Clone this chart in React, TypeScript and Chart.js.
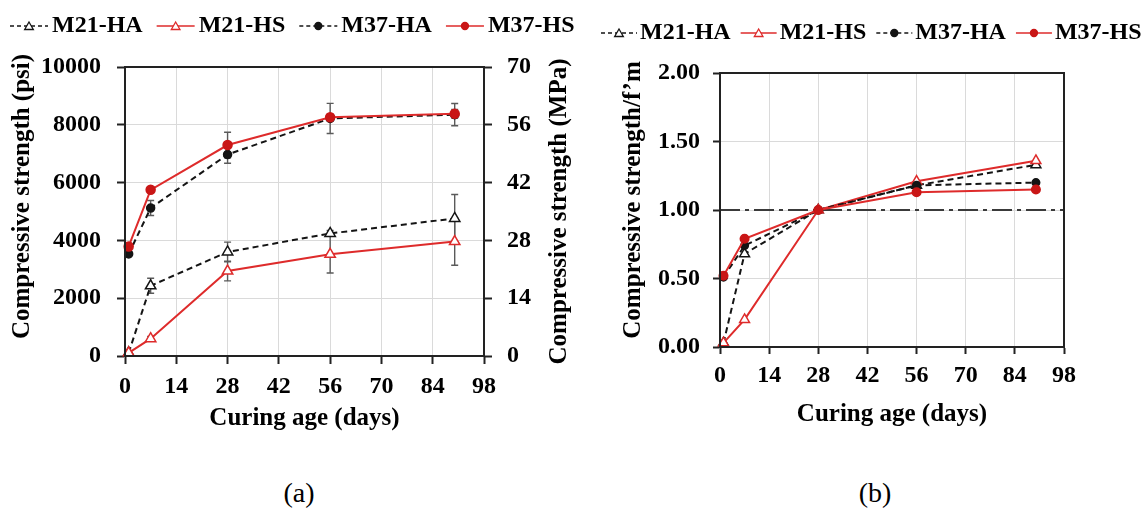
import React, { useEffect, useRef } from 'react';
import { Chart, registerables } from 'chart.js';

Chart.register(...registerables);

// ---- data ----
const curingDays = [1, 7, 28, 56, 90];
const seriesNames = ['M21-HA', 'M21-HS', 'M37-HA', 'M37-HS'];

// Compressive strength (psi)
const strengthM21HA = [110, 2430, 3600, 4240, 4760];
const strengthM21HS = [110, 600, 2940, 3520, 3960];
const strengthM37HA = [3530, 5120, 6970, 8220, 8350];
const strengthM37HS = [3790, 5750, 7300, 8260, 8380];

// Standard deviation of compressive strength (psi)
const errorM21HA = [0, 260, 340, 100, 830];
const errorM21HS = [0, 80, 340, 650, 820];
const errorM37HA = [0, 260, 300, 520, 385];
const errorM37HS = [0, 100, 440, 100, 150];

// Strength normalised by the 28-day strength
const ratioM21HA = [0.03, 0.68, 1.0, 1.18, 1.33];
const ratioM21HS = [0.03, 0.2, 1.0, 1.21, 1.36];
const ratioM37HA = [0.51, 0.74, 1.0, 1.18, 1.2];
const ratioM37HS = [0.52, 0.79, 1.0, 1.13, 1.15];
const referenceRatio = 1.0;

// Axis ranges
const dayAxis = { min: 0, max: 98, step: 14 };
const psiAxis = { min: 0, max: 10000, step: 2000 };
const mpaAxis = { min: 0, max: 70, step: 14 };
const ratioAxis = { min: 0, max: 2, step: 0.5 };

// ---- styling ----
const FONT = '"Liberation Serif", "Times New Roman", serif';
const RED = '#de2b2b';
const RED_DARK = '#c91616';
const INK = '#141414';
const GRID = '#dadada';

const tickFont = { family: FONT, size: 24, weight: 'bold' as const };
const titleFont = { family: FONT, size: 25, weight: 'bold' as const };

const seriesStyles = [
  { color: INK, dash: [6, 4], point: 'triangle', fill: '#ffffff', radius: 6 },
  { color: RED, dash: [], point: 'triangle', fill: '#ffffff', radius: 6 },
  { color: INK, dash: [6, 4], point: 'circle', fill: INK, radius: 4 },
  { color: RED, dash: [], point: 'circle', fill: RED_DARK, radius: 4.5 },
];

function buildDatasets(series: number[][], sizeFactor: number) {
  return series.map((vals, i) => {
    const s = seriesStyles[i];
    return {
      label: seriesNames[i],
      data: curingDays.map((d, k) => ({ x: d, y: vals[k] })),
      borderColor: s.color,
      borderWidth: 2,
      borderDash: s.dash,
      pointStyle: s.point,
      pointRadius: s.radius * sizeFactor,
      pointHoverRadius: s.radius * sizeFactor,
      pointBackgroundColor: s.fill,
      pointBorderColor: s.point === 'circle' ? s.fill : s.color,
      pointBorderWidth: 1.5,
      tension: 0,
      clip: false as const,
      order: 3 - i,
      yAxisID: 'y',
    };
  });
}

function drawMarker(ctx: CanvasRenderingContext2D, style: string, x: number, y: number, r: number, fill: string, stroke: string) {
  ctx.beginPath();
  if (style === 'triangle') {
    ctx.moveTo(x, y - r);
    ctx.lineTo(x + r * Math.sin(Math.PI / 3), y + r / 2);
    ctx.lineTo(x - r * Math.sin(Math.PI / 3), y + r / 2);
    ctx.closePath();
  } else {
    ctx.arc(x, y, r, 0, Math.PI * 2);
  }
  ctx.fillStyle = fill;
  ctx.fill();
  ctx.lineWidth = 1.3;
  ctx.strokeStyle = stroke;
  ctx.stroke();
}

// Legend row: line sample with marker, then the series name
function seriesKey(x0: number, y: number, sample: number, gap: number, itemGap: number) {
  return {
    id: 'seriesKey',
    afterDraw(chart: any) {
      const ctx: CanvasRenderingContext2D = chart.ctx;
      ctx.save();
      ctx.font = `bold 24px ${FONT}`;
      ctx.textBaseline = 'middle';
      ctx.textAlign = 'left';
      let x = x0;
      chart.data.datasets.forEach((ds: any) => {
        ctx.beginPath();
        ctx.setLineDash(ds.borderDash.length ? [4, 3] : []);
        ctx.strokeStyle = ds.borderColor;
        ctx.lineWidth = 1.5;
        ctx.moveTo(x, y);
        ctx.lineTo(x + sample, y);
        ctx.stroke();
        ctx.setLineDash([]);
        const isTri = ds.pointStyle === 'triangle';
        drawMarker(ctx, ds.pointStyle, x + sample / 2, y + (isTri ? 1 : 0), isTri ? 5 : 3.5, ds.pointBackgroundColor, ds.pointBorderColor);
        const tx = x + sample + gap;
        ctx.fillStyle = '#000';
        ctx.fillText(ds.label, tx, y);
        x = tx + ctx.measureText(ds.label).width + itemGap;
      });
      ctx.restore();
    },
  };
}

// Rotated axis titles placed beside the plot area
function sideTitles(items: { text: string; side: 'left' | 'right'; offset: number; shift: number }[]) {
  return {
    id: 'sideTitles',
    afterDraw(chart: any) {
      const { ctx, chartArea } = chart;
      const cy = (chartArea.top + chartArea.bottom) / 2;
      items.forEach((it) => {
        const x = it.side === 'left' ? chartArea.left - it.offset : chartArea.right + it.offset;
        ctx.save();
        ctx.translate(x, cy + it.shift);
        ctx.rotate(-Math.PI / 2);
        ctx.font = `bold 25px ${FONT}`;
        ctx.fillStyle = '#000';
        ctx.textAlign = 'center';
        ctx.textBaseline = 'middle';
        ctx.fillText(it.text, 0, 0);
        ctx.restore();
      });
    },
  };
}

const plotFrame = {
  id: 'plotFrame',
  afterDraw(chart: any) {
    const { ctx, chartArea: a } = chart;
    ctx.save();
    ctx.strokeStyle = '#222';
    ctx.lineWidth = 2;
    ctx.strokeRect(a.left, a.top, a.right - a.left, a.bottom - a.top);
    ctx.restore();
  },
};

function errorBars(values: number[][], errors: number[][]) {
  return {
    id: 'errorBars',
    beforeDatasetsDraw(chart: any) {
      const { ctx, scales } = chart;
      ctx.save();
      ctx.strokeStyle = '#5a5a5a';
      ctx.lineWidth = 1.4;
      values.forEach((vals, i) => {
        vals.forEach((v, k) => {
          const e = errors[i][k];
          if (!e) return;
          const x = scales.x.getPixelForValue(curingDays[k]);
          const yHi = scales.y.getPixelForValue(v + e);
          const yLo = scales.y.getPixelForValue(v - e);
          ctx.beginPath();
          ctx.moveTo(x, yHi);
          ctx.lineTo(x, yLo);
          ctx.moveTo(x - 3.5, yHi);
          ctx.lineTo(x + 3.5, yHi);
          ctx.moveTo(x - 3.5, yLo);
          ctx.lineTo(x + 3.5, yLo);
          ctx.stroke();
        });
      });
      ctx.restore();
    },
  };
}

function referenceLine(value: number) {
  return {
    id: 'referenceLine',
    beforeDatasetsDraw(chart: any) {
      const { ctx, chartArea: a, scales } = chart;
      const y = scales.y.getPixelForValue(value);
      ctx.save();
      ctx.strokeStyle = '#3a3a3a';
      ctx.lineWidth = 2;
      ctx.setLineDash([20, 5, 4, 5]);
      ctx.beginPath();
      ctx.moveTo(a.left, y);
      ctx.lineTo(a.right, y);
      ctx.stroke();
      ctx.restore();
    },
  };
}

function xScale(tickLen: number, tickPad: number, titleBottom: number, height: number) {
  return {
    type: 'linear' as const,
    min: dayAxis.min,
    max: dayAxis.max,
    ticks: { stepSize: dayAxis.step, font: tickFont, color: '#000', padding: tickPad },
    grid: { color: GRID, lineWidth: 1, tickLength: tickLen, tickColor: '#222', tickWidth: 2 },
    border: { color: '#222', width: 2 },
    title: { display: true, text: 'Curing age (days)', font: titleFont, color: '#000', padding: { top: 0, bottom: titleBottom } },
    afterFit: (s: any) => {
      s.height = height;
    },
  };
}

function strengthConfig(): any {
  const values = [strengthM21HA, strengthM21HS, strengthM37HA, strengthM37HS];
  const errors = [errorM21HA, errorM21HS, errorM37HA, errorM37HS];
  return {
    type: 'line',
    data: { datasets: buildDatasets(values, 1) },
    options: {
      animation: false,
      responsive: false,
      layout: { padding: { top: 67, left: 0, right: 0, bottom: 0 } },
      plugins: { legend: { display: false }, tooltip: { enabled: false } },
      scales: {
        x: xScale(8, 8, 26, 104),
        y: {
          type: 'linear',
          position: 'left',
          min: psiAxis.min,
          max: psiAxis.max,
          ticks: { stepSize: psiAxis.step, font: tickFont, color: '#000', padding: 16, callback: (v: number) => String(v) },
          grid: { color: GRID, lineWidth: 1, tickLength: 8, tickColor: '#222', tickWidth: 2 },
          border: { color: '#222', width: 2 },
          afterFit: (s: any) => {
            s.width = 125;
          },
        },
        y2: {
          type: 'linear',
          position: 'right',
          min: mpaAxis.min,
          max: mpaAxis.max,
          ticks: { stepSize: mpaAxis.step, font: tickFont, color: '#000', padding: 15, callback: (v: number) => String(v) },
          grid: { drawOnChartArea: false, tickLength: 8, tickColor: '#222', tickWidth: 2 },
          border: { color: '#222', width: 2 },
          afterFit: (s: any) => {
            s.width = 106;
          },
        },
      },
    },
    plugins: [
      errorBars(values, errors),
      plotFrame,
      seriesKey(10, 26, 38, 4, 14),
      sideTitles([
        { text: 'Compressive strength (psi)', side: 'left', offset: 102, shift: -15 },
        { text: 'Compressive strength (MPa)', side: 'right', offset: 76, shift: 0 },
      ]),
    ],
  };
}

function ratioConfig(): any {
  const values = [ratioM21HA, ratioM21HS, ratioM37HA, ratioM37HS];
  return {
    type: 'line',
    data: { datasets: buildDatasets(values, 0.95) },
    options: {
      animation: false,
      responsive: false,
      layout: { padding: { top: 73, left: 0, right: 80, bottom: 0 } },
      plugins: { legend: { display: false }, tooltip: { enabled: false } },
      scales: {
        x: xScale(7, 7, 30, 113),
        y: {
          type: 'linear',
          position: 'left',
          min: ratioAxis.min,
          max: ratioAxis.max,
          ticks: { stepSize: ratioAxis.step, font: tickFont, color: '#000', padding: 13, callback: (v: number) => v.toFixed(2) },
          grid: { color: GRID, lineWidth: 1, tickLength: 7, tickColor: '#222', tickWidth: 2 },
          border: { color: '#222', width: 2 },
          afterFit: (s: any) => {
            s.width = 130;
          },
        },
      },
    },
    plugins: [
      referenceLine(referenceRatio),
      plotFrame,
      seriesKey(11, 33, 36, 3, 10),
      sideTitles([{ text: 'Compressive strength/f\u2019m', side: 'left', offset: 86, shift: -10 }]),
    ],
  };
}

function ChartCanvas({ left, width, height, makeConfig }: { left: number; width: number; height: number; makeConfig: () => any }) {
  const ref = useRef<HTMLCanvasElement | null>(null);
  useEffect(() => {
    if (!ref.current) return;
    const chart = new Chart(ref.current, makeConfig());
    return () => chart.destroy();
  }, [makeConfig]);
  return (
    <canvas
      ref={ref}
      width={width}
      height={height}
      style={{ position: 'absolute', left, top: 0, width, height }}
    />
  );
}

const captionStyle: React.CSSProperties = {
  position: 'absolute',
  top: 493,
  transform: 'translate(-50%, -50%)',
  fontFamily: FONT,
  fontSize: 28,
  color: '#000',
  whiteSpace: 'nowrap',
  lineHeight: 1,
};

export default function App() {
  return (
    <div style={{ position: 'absolute', left: 0, top: 0, width: 1144, height: 508, background: '#fff', overflow: 'hidden' }}>
      <ChartCanvas left={0} width={590} height={460} makeConfig={strengthConfig} />
      <ChartCanvas left={590} width={554} height={460} makeConfig={ratioConfig} />
      <div style={{ ...captionStyle, left: 299 }}>(a)</div>
      <div style={{ ...captionStyle, left: 875 }}>(b)</div>
    </div>
  );
}
